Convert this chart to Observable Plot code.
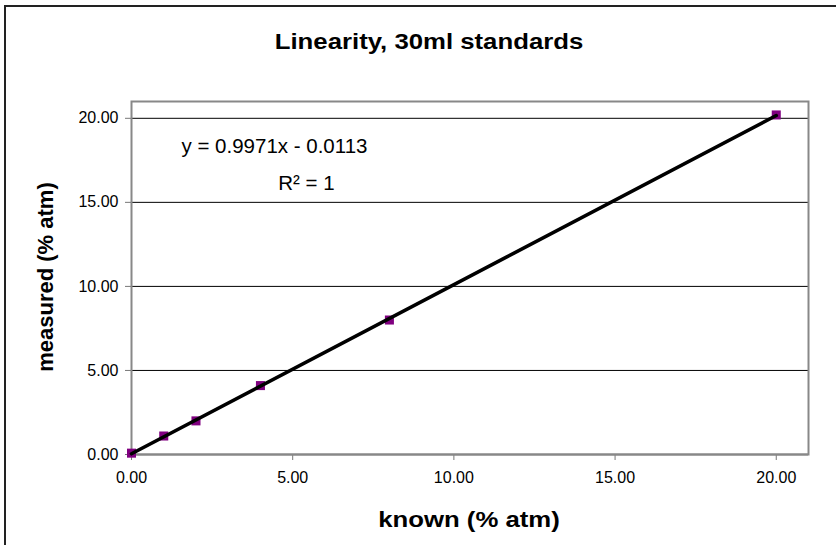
<!DOCTYPE html>
<html>
<head>
<meta charset="utf-8">
<script src="https://cdn.jsdelivr.net/npm/d3@7"></script>
<script src="https://cdn.jsdelivr.net/npm/@observablehq/plot@0.6"></script>
<style>
  html, body { margin: 0; padding: 0; background: #fff; overflow: hidden; }
  #wrap { position: relative; width: 836px; height: 545px; font-family: "Liberation Sans", Arial, sans-serif; }
  #frame { position: absolute; left: 4px; top: 5px; width: 1000px; height: 1000px; border-left: 2px solid #222; border-top: 2px solid #222; box-sizing: border-box; }
  .lbl { position: absolute; font-weight: bold; font-size: 22px; color: #000; white-space: nowrap; line-height: 1; }
  #title { left: 429px; top: 42px; transform: translate(-50%, -50%) scaleX(1.17); }
  #xlabel { left: 469px; top: 520px; transform: translate(-50%, -50%) scaleX(1.17); }
  #ylabel { left: 46px; top: 277px; transform: translate(-50%, -50%) rotate(-90deg); }
  #chart { position: absolute; left: 0; top: 0; }
</style>
</head>
<body>
<div id="wrap">
  <div id="chart"></div>
  <div id="frame"></div>
  <div class="lbl" id="title">Linearity, 30ml standards</div>
  <div class="lbl" id="xlabel">known (% atm)</div>
  <div class="lbl" id="ylabel">measured (% atm)</div>
</div>
<script>
// data
const known = [0, 1, 2, 4, 8, 20];
const measured = [0.08, 1.1, 2.0, 4.1, 8.0, 20.2];
const xTicks = [0, 5, 10, 15, 20];
const yTicks = [0, 5, 10, 15, 20];
const gridValues = [5, 10, 15, 20];
const equationText = ["y = 0.9971x - 0.0113", "R² = 1"];
const equationX = [1.55, 4.55];
const equationY = [18.3, 16.15];

const points = known.map((k, i) => ({known: k, measured: measured[i]}));
const notes = equationText.map((t, i) => ({text: t, x: equationX[i], y: equationY[i]}));
const fmt = d3.format(".2f");

const chart = Plot.plot({
  width: 836,
  height: 545,
  marginLeft: 131,
  marginRight: 28,
  marginTop: 101,
  marginBottom: 91,
  style: {fontFamily: "Liberation Sans, Arial, sans-serif", fontSize: "16px", color: "#000", background: "transparent"},
  x: {domain: [0, 21], ticks: xTicks, tickFormat: fmt, label: null},
  y: {domain: [0, 21], ticks: yTicks, tickFormat: fmt, label: null},
  marks: [
    Plot.gridY(gridValues, {stroke: "#000", strokeOpacity: 1, strokeWidth: 1}),
    Plot.frame({stroke: "#888", strokeWidth: 2}),
    Plot.axisX({ticks: xTicks, tickFormat: fmt, tickSize: 6, tickPadding: 11, stroke: "#777", label: null, fontSize: 16}),
    Plot.axisY({ticks: yTicks, tickFormat: fmt, tickSize: 6, tickPadding: 7, stroke: "#777", label: null, fontSize: 16}),
    Plot.ruleY([0], {stroke: "#888", strokeWidth: 2}),
    Plot.dot(points, {x: "known", y: "measured", symbol: "square", r: 5.1, fill: "#800080", stroke: "none"}),
    Plot.linearRegressionY(points, {x: "known", y: "measured", stroke: "#000", strokeWidth: 3.6, ci: 0}),
    Plot.text(notes, {x: "x", y: "y", text: "text", textAnchor: "start", lineAnchor: "middle", fontSize: 20.5, fill: "#000"})
  ]
});
document.getElementById("chart").appendChild(chart);
</script>
</body>
</html>
